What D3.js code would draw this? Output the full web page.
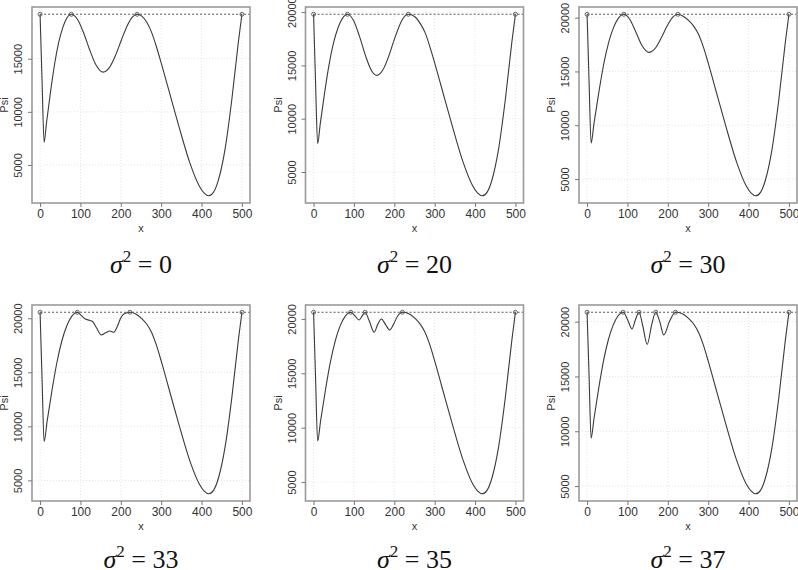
<!DOCTYPE html>
<html>
<head>
<meta charset="utf-8">
<script src="https://cdn.jsdelivr.net/npm/d3@7"></script>
<style>
  body { margin: 0; background: #fff; }
  svg { display: block; }
  .tick-label { font-family: "Liberation Sans", Arial, sans-serif; font-size: 11px; fill: #333; }
  .x-label { font-size: 12px; }
  .title { font-family: "Liberation Serif", "DejaVu Serif", serif; font-size: 26px; fill: #111; }
</style>
</head>
<body>
<svg id="chart" width="798" height="570"></svg>
<script>
// values, one curve per sigma^2
const sigma2 = [0, 20, 30, 33, 35, 37];
const level = [19180, 19796, 20310, 20556, 20613, 20854];
const peaks = [
  [0, 77.5, 240.5, 500],
  [0, 84, 234.8, 500],
  [0, 91, 225, 500],
  [0, 92.3, 222.5, 500],
  [0, 92, 127.7, 220, 500],
  [0, 89.5, 128.7, 170, 219, 500]
];

const psi_0 = [[0,19180],[5,12800],[10,7130],[16,9000],[26,11900],[36,14500],[46,16500],[56,17900],[66,18800],[77.5,19180],[92.5,18707],[107.5,17460],[122.5,15870],[137.5,14480],[156.5,13736],[171.5,14154],[186.5,15277],[201.5,16763],[216.5,18156],[228.5,18908],[240.5,19180],[252,19000],[264,18450],[276,17500],[288,16150],[300,14600],[318,12150],[343,8750],[371,5200],[394,3050],[406,2380],[418,2104],[430,2450],[442,3613],[458,6443],[475,11160],[491,16510],[500,19180]];
const psi_20 = [[0,19796],[5,13300],[10,7665],[16.6,9545],[27.5,12469],[38.5,15089],[49.4,17103],[60.4,18510],[71.4,19407],[84,19796],[99,19211],[114,17697],[129,15867],[144,14473],[156.5,14060],[171.5,14565],[186.5,15896],[201.5,17599],[216.5,19056],[226.5,19641],[234.8,19796],[250,19592],[264,18945],[276,18094],[288,16766],[300,15229],[318,12786],[343,9397],[371,5858],[394,3715],[406,3048],[418,2774],[430,3114],[442,4272],[458,7097],[475,11796],[491,17141],[500,19796]];
const psi_30 = [[0,20310],[5,14000],[10,8344],[17.2,10199],[29.2,13083],[41.2,15667],[53.2,17654],[65.2,19041],[77.2,19927],[91,20310],[106,19828],[121,18647],[136,17410],[153.5,16765],[168.5,17134],[183.5,18094],[198.5,19236],[213.5,20083],[225,20310],[236,20175],[252,19720],[264,19214],[276,18456],[288,17276],[300,15787],[318,13368],[343,10011],[371,6507],[394,4384],[406,3723],[418,3452],[430,3789],[442,4936],[458,7734],[475,12387],[491,17680],[500,20310]];
const psi_33 = [[0,20556],[5,14300],[10,8580],[17.3,10436],[29.5,13323],[41.7,15909],[53.9,17897],[66,19287],[78.3,20173],[92.3,20556],[102,20250],[113,19907],[122,19820],[130,19700],[140,19100],[151.7,18454],[162,18650],[173,18824],[183,18700],[191,19222],[199.5,20000],[207.5,20400],[222.5,20556],[236,20422],[252,19968],[264,19465],[276,18709],[288,17534],[300,16051],[318,13642],[343,10298],[371,6808],[394,4693],[406,4035],[418,3765],[430,4100],[442,5243],[458,8030],[475,12664],[491,17937],[500,20556]];
const psi_35 = [[0,20613],[5,14500],[10,8773],[17.3,10608],[29.4,13462],[41.6,16019],[53.7,17985],[65.8,19358],[78.1,20234],[92,20613],[102,20300],[112.8,19908],[120,20250],[127.7,20613],[138,19800],[150,18773],[159,19500],[168,20000],[178,19500],[188.6,18988],[198,19500],[208,20250],[220,20613],[236,20480],[252,20029],[264,19528],[276,18777],[288,17609],[300,16136],[318,13741],[343,10419],[371,6950],[394,4849],[406,4194],[418,3926],[430,4260],[442,5394],[458,8165],[475,12770],[491,18010],[500,20613]];
const psi_37 = [[0,20854],[5,15000],[10,9360],[17.1,11142],[28.8,13912],[40.6,16394],[52.4,18302],[64.1,19636],[76,20486],[89.5,20854],[100,20200],[111.4,19329],[120,20200],[128.7,20854],[138,19600],[149,17927],[160,19700],[170,20854],[180,20000],[190,18780],[204,20000],[219,20854],[236,20722],[252,20275],[264,19778],[276,19033],[288,17874],[300,16412],[318,14037],[343,10741],[371,7299],[394,5215],[406,4566],[418,4299],[430,4630],[442,5756],[458,8504],[475,13073],[491,18272],[500,20854]];
const curves = [psi_0, psi_20, psi_30, psi_33, psi_35, psi_37];

const xTicks = [0, 100, 200, 300, 400, 500];
const yTicks = [5000, 10000, 15000, 20000];

const svg = d3.select("#chart");

// panel boxes
const colLeft = [32, 305.5, 579];
const rowTop = [7, 305];
const boxW = 218;
const boxH = 196;
const titleY = [273, 568];

curves.forEach((data, i) => {
    const left = colLeft[i % 3];
    const top = rowTop[Math.floor(i / 3)];
    const g = svg.append("g");

    // R style 4% padding on both axes
    const xPad = 500 * 0.04;
    const x = d3.scaleLinear().domain([0 - xPad, 500 + xPad]).range([left, left + boxW]);
    const ext = d3.extent(data, d => d[1]);
    const yPad = (ext[1] - ext[0]) * 0.04;
    const y = d3.scaleLinear().domain([ext[0] - yPad, ext[1] + yPad]).range([top + boxH, top]);
    const yIn = yTicks.filter(t => t >= y.domain()[0] && t <= y.domain()[1]);

    // faint grid
    g.selectAll(".gx").data(xTicks).join("line")
        .attr("x1", d => x(d)).attr("x2", d => x(d))
        .attr("y1", top).attr("y2", top + boxH)
        .attr("stroke", "#e4e4e4").attr("stroke-dasharray", "1,2");
    g.selectAll(".gy").data(yIn).join("line")
        .attr("x1", left).attr("x2", left + boxW)
        .attr("y1", d => y(d)).attr("y2", d => y(d))
        .attr("stroke", "#e4e4e4").attr("stroke-dasharray", "1,2");

    // dotted level line
    g.append("line")
        .attr("x1", x(0)).attr("x2", left + boxW)
        .attr("y1", y(level[i])).attr("y2", y(level[i]))
        .attr("stroke", "#444").attr("stroke-dasharray", "2,2").attr("stroke-width", 0.9);

    const line = d3.line()
        .x(d => x(d[0]))
        .y(d => y(d[1]))
        .curve(d3.curveMonotoneX);

    g.append("path")
        .datum(data)
        .attr("d", line)
        .attr("fill", "none")
        .attr("stroke", "#3a3a3a")
        .attr("stroke-width", 1.1);

    g.selectAll(".pk").data(peaks[i]).join("circle")
        .attr("cx", d => x(d)).attr("cy", y(level[i]))
        .attr("r", 2)
        .attr("fill", "none").attr("stroke", "#555").attr("stroke-width", 0.9);

    // box
    g.append("rect")
        .attr("x", left).attr("y", top)
        .attr("width", boxW).attr("height", boxH)
        .attr("fill", "none").attr("stroke", "#9a9a9a").attr("stroke-width", 1.6);

    // x axis
    const xAxis = d3.axisBottom(x).tickValues(xTicks).tickSize(4).tickPadding(2).tickFormat(d3.format("d"));
    const ax = g.append("g").attr("transform", `translate(0,${top + boxH})`).call(xAxis);
    ax.select(".domain").remove();
    ax.selectAll("line").attr("stroke", "#777");
    ax.selectAll("text").attr("class", "tick-label x-label");

    // y axis, labels parallel to the axis
    const yAxis = d3.axisLeft(y).tickValues(yIn).tickSize(4).tickFormat(d3.format("d"));
    const ay = g.append("g").attr("transform", `translate(${left},0)`).call(yAxis);
    ay.select(".domain").remove();
    ay.selectAll("line").attr("stroke", "#777");
    ay.selectAll("text")
        .attr("class", "tick-label")
        .attr("x", null).attr("dy", null)
        .attr("text-anchor", "middle")
        .attr("transform", "translate(-10,0) rotate(-90)");

    g.append("text").attr("class", "tick-label")
        .attr("x", left + boxW / 2).attr("y", top + boxH + 29)
        .attr("text-anchor", "middle").text("x");
    g.append("text").attr("class", "tick-label")
        .attr("transform", `translate(${left - 24},${top + boxH / 2}) rotate(-90)`)
        .attr("text-anchor", "middle").text("Psi");

    const t = g.append("text").attr("class", "title")
        .attr("x", left + boxW / 2).attr("y", titleY[Math.floor(i / 3)])
        .attr("text-anchor", "middle");
    t.append("tspan").attr("font-style", "italic").text("σ");
    t.append("tspan").attr("font-size", "17px").attr("dy", -11).text("2");
    t.append("tspan").attr("dy", 11).text(" = " + sigma2[i]);
});
</script>
</body>
</html>
